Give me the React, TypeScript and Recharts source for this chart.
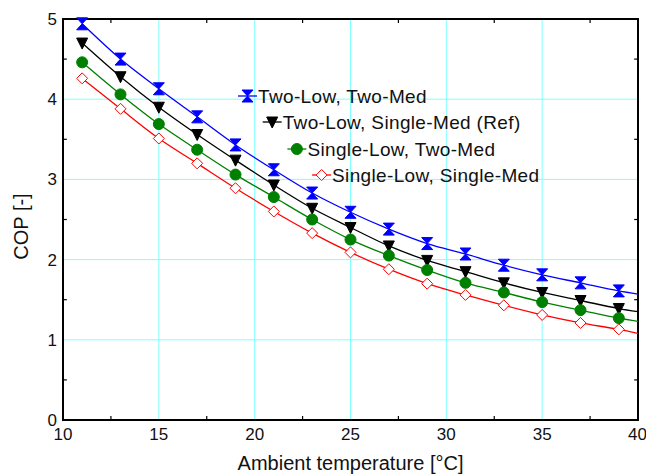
import React from 'react';
import {
  LineChart,
  Line,
  XAxis,
  YAxis,
  CartesianGrid,
  ReferenceLine,
  ReferenceArea,
  Legend,
} from 'recharts';

const temps = [11, 13, 15, 17, 19, 21, 23, 25, 27, 29, 31, 33, 35, 37, 39, 40];
const twoLowTwoMed = [4.94, 4.5, 4.13, 3.78, 3.43, 3.12, 2.83, 2.59, 2.38, 2.2, 2.07, 1.93, 1.81, 1.71, 1.61, 1.57];
const twoLowSingleMed = [4.7, 4.28, 3.9, 3.56, 3.24, 2.93, 2.64, 2.4, 2.17, 1.99, 1.85, 1.71, 1.59, 1.49, 1.39, 1.35];
const singleLowTwoMed = [4.46, 4.06, 3.69, 3.37, 3.06, 2.78, 2.5, 2.25, 2.05, 1.87, 1.71, 1.59, 1.47, 1.37, 1.27, 1.23];
const singleLowSingleMed = [4.26, 3.88, 3.51, 3.2, 2.89, 2.6, 2.33, 2.09, 1.88, 1.7, 1.56, 1.43, 1.31, 1.21, 1.13, 1.08];

const seriesNames = [
  'Two-Low, Two-Med',
  'Two-Low, Single-Med (Ref)',
  'Single-Low, Two-Med',
  'Single-Low, Single-Med',
];
const seriesKeys = ['a', 'b', 'c', 'd'];
const seriesColors = ['#0000ff', '#000000', '#008000', '#ff0000'];
const seriesShapes = ['hourglass', 'triangle', 'circle', 'diamond'];

const xTicks = [10, 15, 20, 25, 30, 35, 40];
const yTicks = [0, 1, 2, 3, 4, 5];
const xMinor = [12.5, 17.5, 22.5, 27.5, 32.5, 37.5];
const yMinor = [0.5, 1.5, 2.5, 3.5, 4.5];
const lastUnmarked = 40;

const data = temps.map((t, i) => ({
  t,
  a: twoLowTwoMed[i],
  b: twoLowSingleMed[i],
  c: singleLowTwoMed[i],
  d: singleLowSingleMed[i],
}));

const FONT = '"Liberation Sans", Arial, sans-serif';

function Marker({ shape, x, y, color }: { shape: string; x: number; y: number; color: string }) {
  if (shape === 'hourglass') {
    return (
      <path
        d={`M${x - 5.5},${y - 6} H${x + 5.5} L${x},${y} L${x + 5.5},${y + 6} H${x - 5.5} L${x},${y} Z`}
        fill={color}
        stroke={color}
        strokeWidth={1}
      />
    );
  }
  if (shape === 'triangle') {
    return (
      <path
        d={`M${x - 5.5},${y - 5} H${x + 5.5} L${x},${y + 6} Z`}
        fill={color}
        stroke={color}
        strokeWidth={1}
      />
    );
  }
  if (shape === 'circle') {
    return <circle cx={x} cy={y} r={5.5} fill={color} stroke={color} />;
  }
  return (
    <path
      d={`M${x},${y - 5.5} L${x + 5.5},${y} L${x},${y + 5.5} L${x - 5.5},${y} Z`}
      fill="#ffffff"
      stroke={color}
      strokeWidth={1}
    />
  );
}

const makeDot = (shape: string, color: string) => (props: any) => {
  const { cx, cy, payload, index } = props;
  if (cx == null || cy == null || payload.t === lastUnmarked) return <g key={`e${index}`} />;
  return (
    <g key={`m${index}`}>
      <Marker shape={shape} x={cx} y={cy} color={color} />
    </g>
  );
};

const legendYs = [96, 122, 149, 175];
const legendX0 = 238;
const legendStep = 24.7;

function LegendContent() {
  return (
    <svg width={646} height={476} style={{ position: 'absolute', left: 0, top: 0, overflow: 'visible' }}>
      {seriesNames.map((name, i) => {
        const x0 = legendX0 + legendStep * i;
        const y = legendYs[i];
        return (
          <g key={name}>
            <line x1={x0} y1={y} x2={x0 + 19} y2={y} stroke={seriesColors[i]} strokeWidth={1.3} />
            <Marker shape={seriesShapes[i]} x={x0 + 9.5} y={y} color={seriesColors[i]} />
            <text
              x={x0 + 20}
              y={y}
              dominantBaseline="central"
              fontSize={19}
              letterSpacing={0.35}
              fontFamily={FONT}
              fill="#111"
            >
              {name}
            </text>
          </g>
        );
      })}
    </svg>
  );
}

const YLabel = (props: any) => {
  const vb = props.viewBox || { x: 0, y: 19, width: 63, height: 401 };
  const cx = vb.x + 21;
  const cy = vb.y + vb.height / 2 + 7;
  return (
    <text
      x={cx}
      y={cy}
      transform={`rotate(-90, ${cx}, ${cy})`}
      textAnchor="middle"
      dominantBaseline="central"
      fontSize={20}
      fontFamily={FONT}
      fill="#111"
    >
      COP [-]
    </text>
  );
};

export default function App() {
  return (
    <div style={{ position: 'absolute', left: 0, top: 0, width: 646, height: 476, background: '#fff' }}>
      <LineChart
        width={646}
        height={476}
        data={data}
        margin={{ top: 19, right: 8, left: 0, bottom: 0 }}
        style={{ fontFamily: FONT }}
      >
        <CartesianGrid stroke="#80ffff" strokeWidth={1} horizontalValues={yTicks} verticalValues={xTicks} />
        <XAxis
          dataKey="t"
          type="number"
          domain={[10, 40]}
          ticks={xTicks}
          allowDataOverflow
          height={56}
          axisLine={false}
          tickLine={false}
          tickSize={0}
          tickMargin={8}
          tick={{ fontSize: 17, fill: '#111', fontFamily: FONT }}
          label={{
            value: 'Ambient temperature [°C]',
            position: 'insideBottom',
            offset: 6,
            fontSize: 20,
            fill: '#111',
            fontFamily: FONT,
          }}
        />
        <YAxis
          type="number"
          domain={[0, 5]}
          ticks={yTicks}
          width={63}
          axisLine={false}
          tickLine={false}
          tickSize={0}
          tickMargin={6}
          tick={{ fontSize: 17, fill: '#111', fontFamily: FONT }}
          label={{ content: YLabel }}
        />
        {xMinor.map((v) => (
          <ReferenceLine
            key={`xb${v}`}
            segment={[{ x: v, y: 0 }, { x: v, y: 0.05 }]}
            stroke="#000"
            strokeWidth={1.2}
          />
        ))}
        {xMinor.map((v) => (
          <ReferenceLine
            key={`xt${v}`}
            segment={[{ x: v, y: 5 }, { x: v, y: 4.95 }]}
            stroke="#000"
            strokeWidth={1.2}
          />
        ))}
        {yMinor.map((v) => (
          <ReferenceLine
            key={`yl${v}`}
            segment={[{ x: 10, y: v }, { x: 10.2, y: v }]}
            stroke="#000"
            strokeWidth={1.2}
          />
        ))}
        {yMinor.map((v) => (
          <ReferenceLine
            key={`yr${v}`}
            segment={[{ x: 40, y: v }, { x: 39.8, y: v }]}
            stroke="#000"
            strokeWidth={1.2}
          />
        ))}
        <ReferenceArea x1={10} x2={40} y1={0} y2={5} fill="none" stroke="#000" strokeWidth={2} />
        {seriesKeys.map((k, i) => (
          <Line
            key={k}
            dataKey={k}
            name={seriesNames[i]}
            type="monotone"
            stroke={seriesColors[i]}
            strokeWidth={1.3}
            dot={makeDot(seriesShapes[i], seriesColors[i])}
            activeDot={false}
            isAnimationActive={false}
          />
        ))}
        <Legend
          layout="vertical"
          align="center"
          verticalAlign="middle"
          content={<LegendContent />}
          wrapperStyle={{ left: 0, top: 0, width: 646, height: 476, pointerEvents: 'none' }}
        />
      </LineChart>
    </div>
  );
}
